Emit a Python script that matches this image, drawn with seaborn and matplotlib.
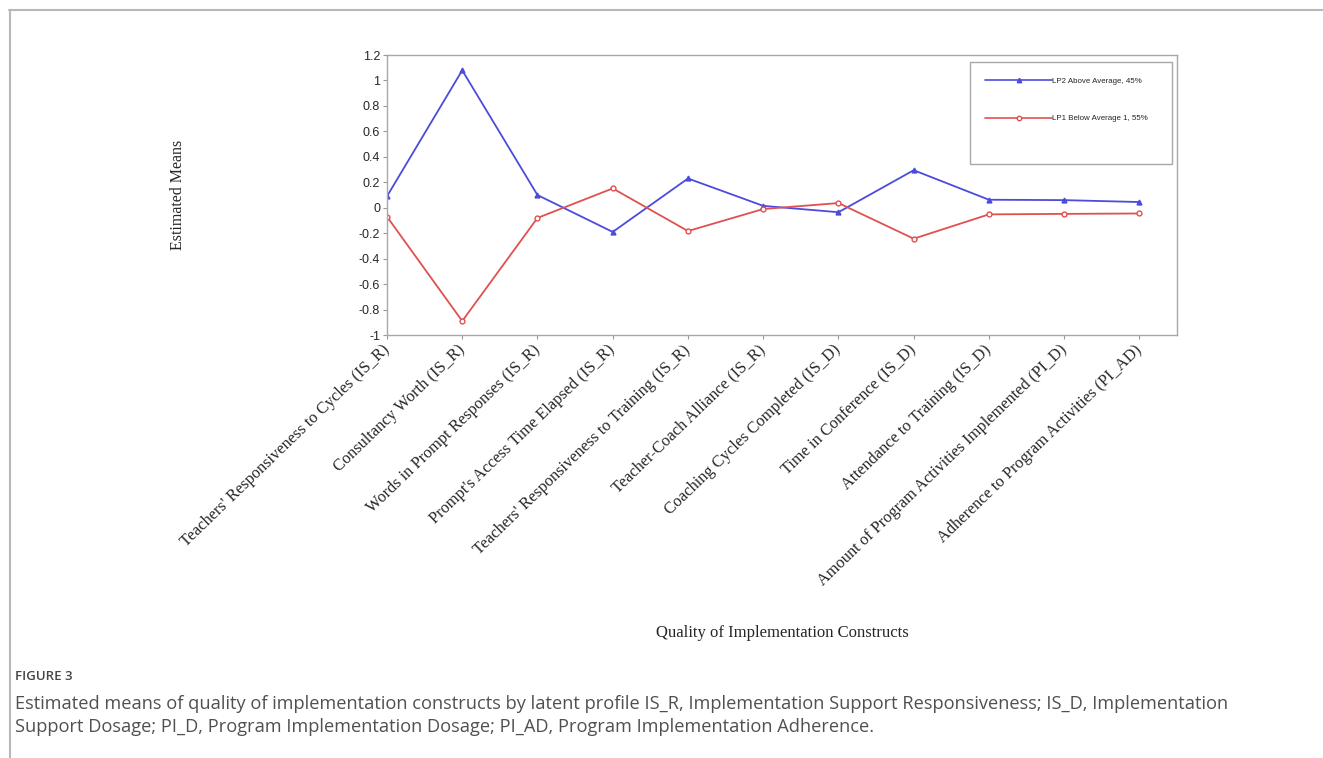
import pandas as pd
import matplotlib
matplotlib.use("Agg")
import matplotlib.pyplot as plt
import seaborn as sns
from matplotlib.lines import Line2D
from matplotlib.patches import Rectangle

# data
constructs = [
    "Teachers' Responsiveness to Cycles (IS_R)",
    "Consultancy Worth (IS_R)",
    "Words in Prompt Responses (IS_R)",
    "Prompt's Access Time Elapsed (IS_R)",
    "Teachers' Responsiveness to Training (IS_R)",
    "Teacher-Coach Alliance (IS_R)",
    "Coaching Cycles Completed (IS_D)",
    "Time in Conference (IS_D)",
    "Attendance to Training (IS_D)",
    "Amount of Program Activities Implemented (PI_D)",
    "Adherence to Program Activities (PI_AD)",
]
lp2_above = [0.09, 1.08, 0.10, -0.19, 0.23, 0.015, -0.035, 0.295, 0.063, 0.06, 0.045]
lp1_below = [-0.07, -0.89, -0.08, 0.152, -0.183, -0.01, 0.037, -0.243, -0.052, -0.048, -0.045]
profile_names = ["LP2 Above Average, 45%", "LP1 Below Average 1, 55%"]
y_ticks = [1.2, 1, 0.8, 0.6, 0.4, 0.2, 0, -0.2, -0.4, -0.6, -0.8, -1]
y_tick_labels = ["1.2", "1", "0.8", "0.6", "0.4", "0.2", "0", "-0.2", "-0.4", "-0.6", "-0.8", "-1"]

df = pd.DataFrame({
    "pos": list(range(len(constructs))) * 2,
    "mean": lp2_above + lp1_below,
    "profile": [profile_names[0]] * len(constructs) + [profile_names[1]] * len(constructs),
})

sns.set_style("white")
plt.rcParams["font.family"] = ["Liberation Serif", "DejaVu Serif"]

fig = plt.figure(figsize=(13.23, 7.58), dpi=100)
ax = fig.add_axes([0.2925, 0.558, 0.5972, 0.3694])

colors = {profile_names[0]: "#4b4bdc", profile_names[1]: "#e05050"}
markers = {profile_names[0]: "^", profile_names[1]: "o"}

sns.lineplot(data=df, x="pos", y="mean", hue="profile", style="profile",
             palette=colors, markers=markers, dashes=False, linewidth=1.3,
             markersize=3.5, legend=False, ax=ax)

# match marker edges to the line colour, red circles are open
for line in ax.get_lines():
    c = line.get_color()
    line.set_markeredgecolor(c)
    line.set_markeredgewidth(1.0)
    if c == colors[profile_names[1]]:
        line.set_markerfacecolor("white")

ax.set_xlim(0, 10.5)
ax.set_ylim(-1, 1.2)
ax.set_yticks(y_ticks)
ax.set_yticklabels(y_tick_labels, family="Liberation Sans", fontsize=9)
ax.set_xticks(range(len(constructs)))
ax.set_xticklabels(constructs, rotation=44, ha="right", va="center",
                   rotation_mode="anchor", fontsize=11.8)
ax.tick_params(axis="both", direction="out", length=3, width=0.8,
               color="#999999", pad=2, left=True, bottom=True)
ax.tick_params(axis="x", pad=6)

for s in ax.spines.values():
    s.set_color("#a8a8a8")
    s.set_linewidth(1.0)

ax.set_ylabel("Estimated Means", fontsize=11.5)
ax.yaxis.set_label_coords(-0.255, 0.5)
ax.set_xlabel("Quality of Implementation Constructs", fontsize=12)
ax.xaxis.set_label_coords(0.5, -1.035)

# legend in a box
ax.add_patch(Rectangle((0.738, 0.611), 0.2557, 0.364, transform=ax.transAxes,
                       fill=False, edgecolor="#a8a8a8", linewidth=1.0, zorder=5))
handles = [
    Line2D([], [], color=colors[profile_names[0]], marker="^", markersize=3.2, linewidth=1.2,
           markeredgecolor=colors[profile_names[0]]),
    Line2D([], [], color=colors[profile_names[1]], marker="o", markersize=3.2, linewidth=1.2,
           markerfacecolor="white", markeredgecolor=colors[profile_names[1]]),
]
ax.legend(handles, profile_names, loc="upper left", bbox_to_anchor=(0.757, 0.921),
          frameon=False, prop={"family": "Liberation Sans", "size": 5.7},
          handlelength=8.5, handletextpad=0.0, labelspacing=3.8, borderpad=0.0,
          borderaxespad=0.0)

# page frame and caption
fig.add_artist(Line2D([0.0068, 1.0], [0.987, 0.987], color="#b8b8b8", linewidth=1.5,
                      transform=fig.transFigure))
fig.add_artist(Line2D([0.0075, 0.0075], [0.0, 0.987], color="#b8b8b8", linewidth=1.5,
                      transform=fig.transFigure))
fig.text(0.0113, 0.107, "FIGURE 3", family="Open Sans", fontsize=9.5,
         color="#454545", va="center", fontweight="semibold")
fig.text(0.0113, 0.0715,
         "Estimated means of quality of implementation constructs by latent profile IS_R, "
         "Implementation Support Responsiveness; IS_D, Implementation",
         family="Open Sans", fontsize=13.15, color="#505050", va="center")
fig.text(0.0113, 0.0412,
         "Support Dosage; PI_D, Program Implementation Dosage; PI_AD, Program Implementation Adherence.",
         family="Open Sans", fontsize=13.15, color="#505050", va="center")

fig.savefig("out.png", dpi=100, facecolor="white")
